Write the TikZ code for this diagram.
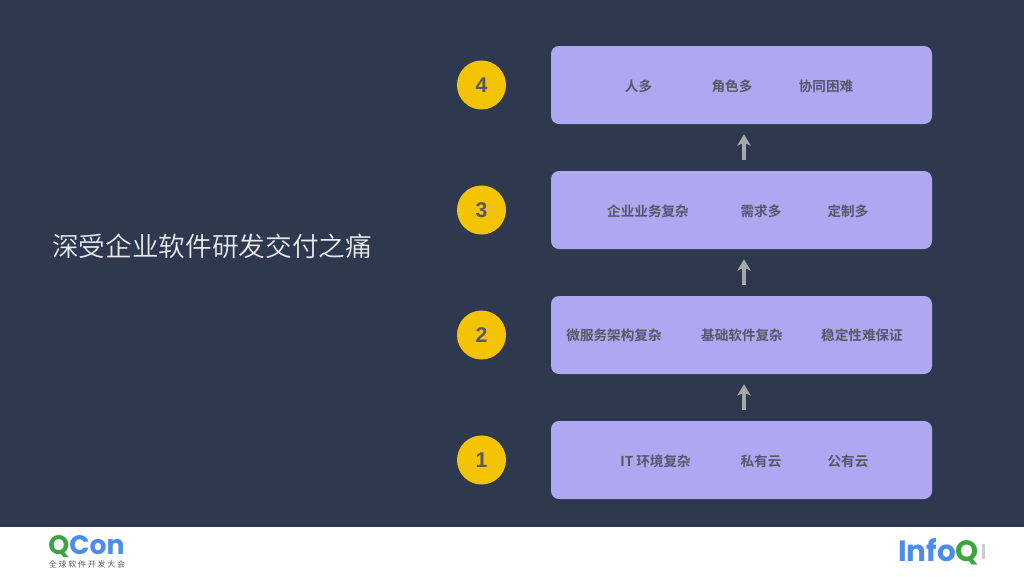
\documentclass[tikz,border=0pt]{standalone}
\usepackage{fontspec}
\setmainfont{Liberation Sans}
\newfontfamily\cjk[BoldFont={Noto Sans CJK SC Bold}]{Noto Sans CJK SC}
\newfontfamily\cjklight{Noto Sans CJK SC DemiLight}
\newfontfamily\logofont[BoldFont={Poppins Bold}]{Poppins}
\newfontfamily\subfont[LetterSpace=22]{Noto Sans CJK SC}
\newfontfamily\numfont[BoldFont={Liberation Sans Bold}]{Liberation Sans}
\definecolor{bgnavy}{HTML}{2E3950}
\definecolor{boxfill}{HTML}{ADA8F1}
\definecolor{inktext}{HTML}{555966}
\definecolor{goldc}{HTML}{F5C400}
\definecolor{arrowc}{HTML}{A5AAA6}
\definecolor{titlec}{HTML}{E8EAEC}
\definecolor{logogreen}{HTML}{3BA63F}
\definecolor{logoblue}{HTML}{4A8CEF}
\usetikzlibrary{arrows.meta}
\tikzset{
  x=0.75pt,y=-0.75pt,
  stagebox/.style={draw=none,fill=boxfill,rounded corners=6pt,minimum width=381*0.75pt,minimum height=78*0.75pt,inner sep=0pt},
  badge/.style={circle,fill=goldc,minimum size=49*0.75pt,inner sep=0pt,text=inktext,font=\numfont\bfseries\fontsize{16pt}{18pt}\selectfont},
  item/.style={text=inktext,inner sep=0pt,font=\cjk\bfseries\fontsize{10.2pt}{12pt}\selectfont},
  uparrow/.style={draw=arrowc,line width=2.3pt,-{Stealth[length=8.5pt,width=10pt,inset=2.2pt]},shorten <=8.2pt,shorten >=7.5pt},
}
\begin{document}
\begin{tikzpicture}
\useasboundingbox (0,0) rectangle (1024,576);
\fill[bgnavy] (0,0) rectangle (1024,527);
\fill[white] (0,528) rectangle (1024,576);
\node[anchor=west,text=titlec,inner sep=0pt,font=\cjklight\fontsize{20pt}{22pt}\selectfont] (title) at (52,246) {深受企业软件研发交付之痛};
\node[stagebox] (b4) at (741.5,85) {};
\node[stagebox] (b3) at (741.5,210) {};
\node[stagebox] (b2) at (741.5,335) {};
\node[stagebox] (b1) at (741.5,460) {};
\node[badge] (n4) at (481.5,85) {4};
\node[badge] (n3) at (481.5,210) {3};
\node[badge] (n2) at (481.5,335) {2};
\node[badge] (n1) at (481.5,460) {1};
\coordinate (ax) at (744,0);
\draw[uparrow] (b3.north -| ax) -- (b4.south -| ax);
\draw[uparrow] (b2.north -| ax) -- (b3.south -| ax);
\draw[uparrow] (b1.north -| ax) -- (b2.south -| ax);
\node[item] (t41) at (638.5,86) {人多};
\node[item] (t42) at (732,86) {角色多};
\node[item] (t43) at (826,86) {协同困难};
\node[item] (t31) at (648,211) {企业业务复杂};
\node[item] (t32) at (761,211) {需求多};
\node[item] (t33) at (848,211) {定制多};
\node[item] (t21) at (614,335) {微服务架构复杂};
\node[item] (t22) at (742,335) {基础软件复杂};
\node[item] (t23) at (862,335) {稳定性难保证};
\node[item] (t11) at (655.5,461) {IT 环境复杂};
\node[item] (t12) at (761,461) {私有云};
\node[item] (t13) at (848,461) {公有云};
\node[anchor=base west,inner sep=0pt,font=\logofont\bfseries\fontsize{20pt}{22pt}\selectfont] (qcon) at (48,554.5) {\textcolor{logogreen}{Q}\textcolor{logoblue}{Con}};
\node[anchor=center,inner sep=0pt,text=inktext,font=\subfont\fontsize{6pt}{7pt}\selectfont] (qsub) at (87,564) {全球软件开发大会};
\node[anchor=base west,inner sep=0pt,font=\logofont\bfseries\fontsize{22pt}{22pt}\selectfont] (infoq) at (898,561.5) {\textcolor{logoblue}{Info}\textcolor{logogreen}{Q}};
\fill[black!20] (981.5,544) rectangle (984.5,559);
\end{tikzpicture}
\end{document}
